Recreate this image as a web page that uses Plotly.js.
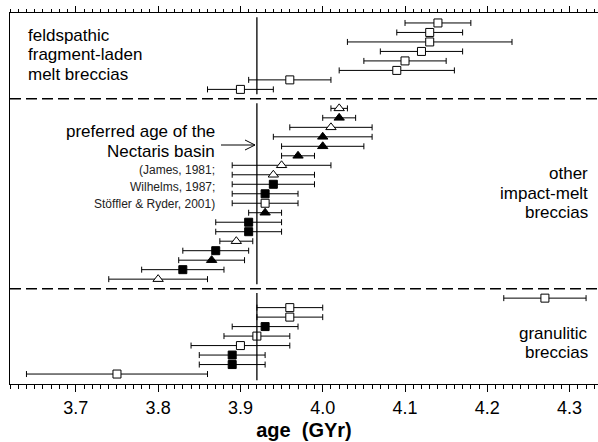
<!DOCTYPE html>
<html>
<head>
<meta charset="utf-8">
<script src="https://cdn.plot.ly/plotly-3.0.1.min.js"></script>
<style>
  html, body { margin: 0; padding: 0; background: #fff; }
  #chart { width: 598px; height: 442px; }
</style>
</head>
<body>
<div id="chart"></div>
<script>
// ---- data (ages in GYr, 1-sigma errors) ----
// os = open square, fs = filled square, ot = open triangle, ft = filled triangle
const feldAge = [4.14, 4.13, 4.13, 4.12, 4.10, 4.09, 3.96, 3.90];
const feldErr = [0.04, 0.04, 0.10, 0.05, 0.05, 0.07, 0.05, 0.04];
const feldSym = ['os', 'os', 'os', 'os', 'os', 'os', 'os', 'os'];

const otherAge = [4.02, 4.02, 4.01, 4.00, 4.00, 3.97, 3.95, 3.94, 3.94, 3.93,
                  3.93, 3.93, 3.91, 3.91, 3.895, 3.87, 3.865, 3.83, 3.80];
const otherErr = [0.01, 0.02, 0.05, 0.06, 0.05, 0.02, 0.06, 0.05, 0.05, 0.04,
                  0.04, 0.02, 0.04, 0.04, 0.02, 0.04, 0.04, 0.05, 0.06];
const otherSym = ['ot', 'ft', 'ot', 'ft', 'ft', 'ft', 'ot', 'ot', 'fs', 'fs',
                  'os', 'ft', 'fs', 'fs', 'ot', 'fs', 'ft', 'fs', 'ot'];

const granAge = [4.27, 3.96, 3.96, 3.93, 3.92, 3.90, 3.89, 3.89, 3.75];
const granErr = [0.05, 0.04, 0.04, 0.04, 0.04, 0.06, 0.04, 0.04, 0.11];
const granSym = ['os', 'os', 'os', 'fs', 'os', 'os', 'fs', 'fs', 'os'];

const preferredAge = 3.92;
const xTickVals = [3.7, 3.8, 3.9, 4.0, 4.1, 4.2, 4.3];
const xTickText = ['3.7', '3.8', '3.9', '4.0', '4.1', '4.2', '4.3'];

// ---- layout helpers ----
const panelStart = [0, 9, 29];   // row slots; one empty slot between panels
const panels = [
  {age: feldAge, err: feldErr, sym: feldSym},
  {age: otherAge, err: otherErr, sym: otherSym},
  {age: granAge, err: granErr, sym: granSym}
];
const kinds = {
  os: {symbol: 'square', fill: '#ffffff', size: 8},
  fs: {symbol: 'square', fill: '#000000', size: 8},
  ot: {symbol: 'triangle-up', fill: '#ffffff', size: 9},
  ft: {symbol: 'triangle-up', fill: '#000000', size: 9}
};
const pts = {os: [], fs: [], ot: [], ft: []};
panels.forEach((p, pi) => {
  p.age.forEach((a, i) => {
    pts[p.sym[i]].push({x: a, e: p.err[i], y: panelStart[pi] + i});
  });
});

const traces = Object.keys(kinds).map(k => ({
  type: 'scatter',
  mode: 'markers',
  x: pts[k].map(d => d.x),
  y: pts[k].map(d => d.y),
  error_x: {type: 'data', array: pts[k].map(d => d.e), visible: true,
            color: '#000', thickness: 1, width: 3},
  marker: {symbol: kinds[k].symbol, size: kinds[k].size, color: kinds[k].fill,
           line: {color: '#000', width: 1}},
  hoverinfo: 'skip',
  showlegend: false,
  cliponaxis: false
}));
// invisible traces to activate the top tick axes
['x2', 'x3'].forEach(ax => {
  traces.push({type: 'scatter', mode: 'markers', x: [preferredAge], y: [0], xaxis: ax,
               marker: {opacity: 0}, hoverinfo: 'skip', showlegend: false});
});

const XR = [3.62, 4.3345];
const YR = [38.05, -1.05];
const L = 10, T = 13, W = 588, H = 371;
function px2paperX(px) { return (px - L) / W; }
function px2paperY(py) { return (T + H - py) / H; }
function px2dataX(px) { return XR[0] + (px - L) / W * (XR[1] - XR[0]); }

const shapes = [];
// preferred age line, one segment per panel
[[-0.6, 7.5], [8.45, 27.55], [28.45, 37.65]].forEach(s => {
  shapes.push({type: 'line', xref: 'x', yref: 'y', x0: preferredAge, x1: preferredAge,
               y0: s[0], y1: s[1], line: {color: '#000', width: 1.3}});
});
// panel separators
[8, 28].forEach(yv => {
  shapes.push({type: 'line', xref: 'paper', yref: 'y', x0: 0, x1: 1, y0: yv, y1: yv,
               line: {color: '#000', width: 1.5, dash: '11px,5px'}});
});
// arrow pointing to the preferred age
const tipX = px2dataX(255), tailX = px2dataX(221), headX = px2dataX(245);
const ay = px2paperY(145), ayU = px2paperY(140), ayD = px2paperY(150);
shapes.push({type: 'path', xref: 'x', yref: 'paper',
  path: `M${tailX},${ay} L${tipX},${ay} M${headX},${ayU} L${tipX},${ay} L${headX},${ayD}`,
  line: {color: '#000', width: 1}});

function ann(text, px, py, anchor, size, color) {
  return {text: text, xref: 'paper', yref: 'paper', x: px2paperX(px), y: px2paperY(py),
          xanchor: anchor, yanchor: 'middle', showarrow: false, borderpad: 0,
          font: {family: 'Liberation Sans, Arial, sans-serif', size: size, color: color || '#000'}};
}
const annotations = [
  ann('feldspathic', 27, 36, 'left', 17),
  ann('fragment-laden', 27, 55, 'left', 17),
  ann('melt breccias', 27, 74, 'left', 17),
  ann('preferred age of the', 216, 131, 'right', 17),
  ann('Nectaris basin', 216, 151, 'right', 17),
  ann('(James, 1981;', 216, 170, 'right', 12, '#222'),
  ann('Wilhelms, 1987;', 216, 187, 'right', 12, '#222'),
  ann('Stöffler &amp; Ryder, 2001)', 216, 204, 'right', 12, '#222'),
  ann('other', 589, 173, 'right', 17),
  ann('impact-melt', 589, 193, 'right', 17),
  ann('breccias', 589, 212, 'right', 17),
  ann('granulitic', 589, 333, 'right', 17),
  ann('breccias', 589, 352, 'right', 17)
];

const minorTicks = {dtick: 0.01, tick0: 3.6, ticks: 'outside', ticklen: 4, tickwidth: 1,
                    tickcolor: '#000', showgrid: false};

const layout = {
  width: 598, height: 442,
  margin: {l: L, r: 598 - L - W, t: T, b: 442 - T - H},
  paper_bgcolor: '#fff', plot_bgcolor: '#fff',
  font: {family: 'Liberation Sans, Arial, sans-serif', color: '#000'},
  xaxis: {
    range: XR, showgrid: false, zeroline: false,
    showline: true, linecolor: '#000', linewidth: 1, mirror: false,
    ticks: 'outside', ticklen: 7, tickwidth: 1, tickcolor: '#000',
    tickvals: xTickVals, ticktext: xTickText,
    tickfont: {size: 18, color: '#000'},
    minor: minorTicks,
    title: {text: '<b>age  (GYr)</b>', font: {size: 20, color: '#000'}, standoff: 6}
  },
  // top axis: minor ticks every 0.01
  xaxis2: {
    overlaying: 'x', side: 'top', anchor: 'y', range: XR,
    showgrid: false, zeroline: false, showticklabels: false,
    showline: true, linecolor: '#000', linewidth: 1,
    tickmode: 'linear', tick0: 3.6, dtick: 0.01,
    ticks: 'outside', ticklen: 3, tickwidth: 1, tickcolor: '#000'
  },
  // top axis: major ticks
  xaxis3: {
    overlaying: 'x', side: 'top', anchor: 'y', range: XR,
    showgrid: false, zeroline: false, showticklabels: false, showline: false,
    tickvals: xTickVals,
    ticks: 'outside', ticklen: 6, tickwidth: 1, tickcolor: '#000'
  },
  yaxis: {
    range: YR, showgrid: false, zeroline: false, showticklabels: false, ticks: '',
    showline: true, linecolor: '#000', linewidth: 1, mirror: false
  },
  shapes: shapes,
  annotations: annotations
};

Plotly.newPlot('chart', traces, layout, {displayModeBar: false, staticPlot: true});
</script>
</body>
</html>
